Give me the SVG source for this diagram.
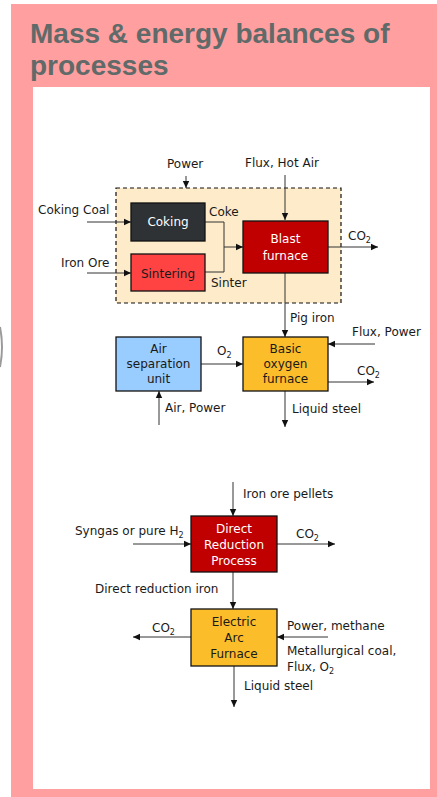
<svg xmlns="http://www.w3.org/2000/svg" width="437" height="797" viewBox="0 0 437 797">
<style>
.t{font-family:"DejaVu Sans","Liberation Sans",sans-serif;font-size:12px;fill:#1a1a1a}
.w{fill:#ffffff}
.c{text-anchor:middle}
.ln{stroke:#333;stroke-width:1;fill:none}
.ar{stroke:#333;stroke-width:1;fill:none;marker-end:url(#ah)}
.box{stroke:#111;stroke-width:1.3}
.sub{font-size:8px}
</style>
<defs>
<marker id="ah" markerWidth="8" markerHeight="8" refX="7" refY="4" orient="auto" markerUnits="userSpaceOnUse">
<path d="M0,0.8 L7,4 L0,7.2 Z" fill="#111"/>
</marker>
</defs>
<rect x="0" y="0" width="437" height="797" fill="#ffffff"/>
<path d="M0,327 Q4,347 0,367" stroke="#9a9a9a" stroke-width="2" fill="none"/>
<rect x="11" y="4" width="426" height="793" fill="#ff9f9f"/>
<rect x="33" y="87" width="397" height="702" fill="#ffffff"/>
<g id="title" font-family="'Liberation Sans',Arial,sans-serif" font-weight="bold" font-size="28" fill="#5f6a69">
<text x="30" y="43">Mass &amp; energy balances of</text>
<text x="30" y="75">processes</text>
</g>
<g id="integrated-plant">
<rect x="116" y="188" width="225" height="115" fill="#fdebc9" stroke="#111" stroke-width="1.2" stroke-dasharray="4,3"/>
</g>
<g id="connectors">
<path class="ar" d="M186,176 V188"/>
<path class="ar" d="M285,175 V220"/>
<path class="ar" d="M87,222 H131"/>
<path class="ar" d="M87,273 H131"/>
<path class="ln" d="M205,222 H224 V272 H205"/>
<path class="ar" d="M224,247 H243"/>
<path class="ar" d="M328,247 H378"/>
<path class="ar" d="M285,273 V337"/>
<path class="ar" d="M201,364 H243"/>
<path class="ar" d="M375,344 H328"/>
<path class="ar" d="M328,382 H374"/>
<path class="ar" d="M159,425 V391"/>
<path class="ar" d="M285,391 V427"/>
<path class="ar" d="M233,482 V516"/>
<path class="ar" d="M133,544 H191"/>
<path class="ar" d="M277,544 H335"/>
<path class="ar" d="M233,572 V609"/>
<path class="ar" d="M191,637 H133"/>
<path class="ar" d="M328,637 H277"/>
<path class="ar" d="M234,666 V707"/>
</g>
<g id="coking">
<rect class="box" x="131" y="203" width="74" height="38" fill="#2f3234"/>
<text class="t w c" x="168" y="226">Coking</text>
</g>
<g id="sintering">
<rect class="box" x="131" y="254" width="74" height="37" fill="#ff4343"/>
<text class="t c" x="168" y="278">Sintering</text>
</g>
<g id="blast-furnace">
<rect class="box" x="243" y="221" width="85" height="52" fill="#c00000"/>
<text class="t w c" x="285.5" y="243">Blast</text>
<text class="t w c" x="285.5" y="260">furnace</text>
</g>
<g id="air-separation-unit">
<rect class="box" x="116" y="337" width="85" height="54" fill="#99ccff"/>
<text class="t c" x="158.5" y="353">Air</text>
<text class="t c" x="158.5" y="368">separation</text>
<text class="t c" x="158.5" y="383">unit</text>
</g>
<g id="basic-oxygen-furnace">
<rect class="box" x="243" y="337" width="85" height="54" fill="#fcbd2b"/>
<text class="t c" x="285.5" y="353">Basic</text>
<text class="t c" x="285.5" y="368">oxygen</text>
<text class="t c" x="285.5" y="383">furnace</text>
</g>
<g id="direct-reduction-process">
<rect class="box" x="191" y="516" width="86" height="56" fill="#c00000"/>
<text class="t w c" x="234" y="533">Direct</text>
<text class="t w c" x="234" y="549">Reduction</text>
<text class="t w c" x="234" y="565">Process</text>
</g>
<g id="electric-arc-furnace">
<rect class="box" x="191" y="609" width="86" height="57" fill="#fcbd2b"/>
<text class="t c" x="234" y="626">Electric</text>
<text class="t c" x="234" y="642">Arc</text>
<text class="t c" x="234" y="658">Furnace</text>
</g>
<g id="labels">
<text class="t" x="167" y="168">Power</text>
<text class="t" x="245" y="167">Flux, Hot Air</text>
<text class="t" x="38" y="214">Coking Coal</text>
<text class="t" x="61" y="267">Iron Ore</text>
<text class="t" x="209" y="216">Coke</text>
<text class="t" x="211" y="287">Sinter</text>
<text class="t" x="348" y="240">CO<tspan class="sub" dy="3">2</tspan></text>
<text class="t" x="290" y="322">Pig iron</text>
<text class="t" x="352" y="336">Flux, Power</text>
<text class="t" x="217" y="355">O<tspan class="sub" dy="3">2</tspan></text>
<text class="t" x="357" y="375">CO<tspan class="sub" dy="3">2</tspan></text>
<text class="t" x="165" y="412">Air, Power</text>
<text class="t" x="292" y="413">Liquid steel</text>
<text class="t" x="243" y="498">Iron ore pellets</text>
<text class="t" x="75" y="535">Syngas or pure H<tspan class="sub" dy="3">2</tspan></text>
<text class="t" x="296" y="538">CO<tspan class="sub" dy="3">2</tspan></text>
<text class="t" x="95" y="593">Direct reduction iron</text>
<text class="t" x="152" y="632">CO<tspan class="sub" dy="3">2</tspan></text>
<text class="t" x="287" y="630">Power, methane</text>
<text class="t" x="287" y="655">Metallurgical coal,</text>
<text class="t" x="287" y="671">Flux, O<tspan class="sub" dy="3">2</tspan></text>
<text class="t" x="244" y="690">Liquid steel</text>
</g>
</svg>
